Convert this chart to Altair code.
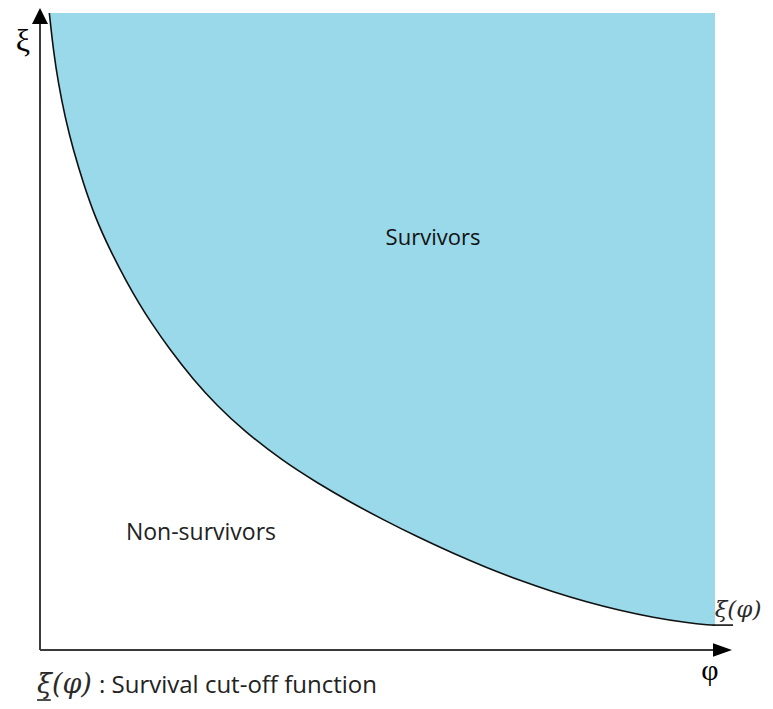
import altair as alt
import pandas as pd

# Survival cut-off curve xi(phi)
phi = [0.138, 0.197, 0.271, 0.370, 0.493, 0.641, 0.815, 1.037, 1.284, 1.481,
       1.630, 1.926, 2.271, 2.618, 3.012, 3.604, 4.099, 4.593, 5.086, 5.581,
       6.123, 6.618, 7.111, 7.604, 8.099, 8.593, 9.086, 9.581, 9.926, 10.0]
xi = [10.0, 9.419, 8.901, 8.367, 7.849, 7.331, 6.797, 6.279, 5.776, 5.416,
      5.165, 4.710, 4.245, 3.841, 3.449, 2.961, 2.630, 2.323, 2.044, 1.782,
      1.515, 1.292, 1.091, 0.911, 0.754, 0.620, 0.510, 0.427, 0.391, 0.391]
xi_top = 10.0  # upper bound of the survivors region

region_labels = ["Survivors", "Non-survivors"]
caption_text = ": Survival cut-off function"
curve_label = "ξ(φ)"
x_title = "φ"
y_title = "ξ"

df = pd.DataFrame({"phi": phi, "xi": xi})
one = pd.DataFrame({"k": [0]})

xs = alt.Scale(domain=[-0.4741, 10.7407], nice=False, zero=False)
ys = alt.Scale(domain=[-0.8006, 10.0785], nice=False, zero=False)


def X(v=None, field=None):
    if field:
        return alt.X(field, type="quantitative", scale=xs, axis=None)
    return alt.X(datum=v, type="quantitative", scale=xs, axis=None)


def Y(v=None, field=None):
    if field:
        return alt.Y(field, type="quantitative", scale=ys, axis=None)
    return alt.Y(datum=v, type="quantitative", scale=ys, axis=None)


area = alt.Chart(df).mark_area(color="#99D9EA", opacity=1, interpolate="basis").encode(
    x=X(field="phi"), y=Y(field="xi"), y2=alt.datum(xi_top)
)
curve = alt.Chart(df).mark_line(color="#111111", strokeWidth=1.6, interpolate="basis").encode(
    x=X(field="phi"), y=Y(field="xi"), order="phi:Q"
)

base = alt.Chart(one)

y_axis = base.mark_rule(color="#3a3a3a", strokeWidth=2).encode(
    x=X(0), y=Y(0), y2=alt.datum(9.921)
)
x_axis = base.mark_rule(color="#3a3a3a", strokeWidth=2).encode(
    x=X(0), x2=alt.datum(10.044), y=Y(0)
)
y_arrow = base.mark_point(shape="M0,-1L1,1L-1,1Z", size=256, filled=True,
                          color="black", opacity=1).encode(x=X(0), y=Y(9.953))
x_arrow = base.mark_point(shape="M-1,-0.7L1,0L-1,0.7Z", size=361, filled=True,
                          color="black", opacity=1).encode(x=X(10.111), y=Y(0))
underline_r = base.mark_rule(color="#111111", strokeWidth=1.6).encode(
    x=X(10.0), x2=alt.datum(10.267), y=Y(0.391)
)
underline_c = base.mark_rule(color="#222222", strokeWidth=1.6).encode(
    x=X(-0.044), x2=alt.datum(0.16), y=Y(-0.785)
)


def text(s, x, y, **kw):
    return base.mark_text(**kw).encode(x=X(x), y=Y(y), text=alt.value(s))


t_surv = text(region_labels[0], 5.822, 6.468, font="Open Sans", fontSize=22, color="#111111",
              align="center", baseline="middle")
t_non = text(region_labels[1], 2.385, 1.837, font="Open Sans", fontSize=23, color="#222222",
             align="center", baseline="middle")
t_curve = text(curve_label, 9.995, 0.518, font="DejaVu Serif", fontStyle="italic", fontSize=23,
               color="#2a2a2a", align="left", baseline="alphabetic")
t_xt = text(x_title, 9.926, -0.330, font="Liberation Serif", fontSize=30, color="black",
            align="center", baseline="middle")
t_yt = text(y_title, -0.252, 9.560, font="Liberation Serif", fontSize=32, color="black",
            align="center", baseline="middle")
t_cap1 = text(curve_label, -0.044, -0.675, font="DejaVu Serif", fontStyle="italic", fontSize=27,
              color="#2a2a2a", align="left", baseline="alphabetic")
t_cap2 = text(caption_text, 0.874, -0.675, font="Open Sans", fontSize=24, color="#222222",
              align="left", baseline="alphabetic")

chart = alt.layer(
    area, curve, y_axis, x_axis, y_arrow, x_arrow, underline_r, underline_c,
    t_surv, t_non, t_curve, t_xt, t_yt, t_cap1, t_cap2,
).properties(
    width=757, height=693, padding=0, autosize=alt.AutoSizeParams(type="none")
).configure_view(stroke=None)

chart.save("out.html", embed_options={"renderer": "svg", "actions": False})
